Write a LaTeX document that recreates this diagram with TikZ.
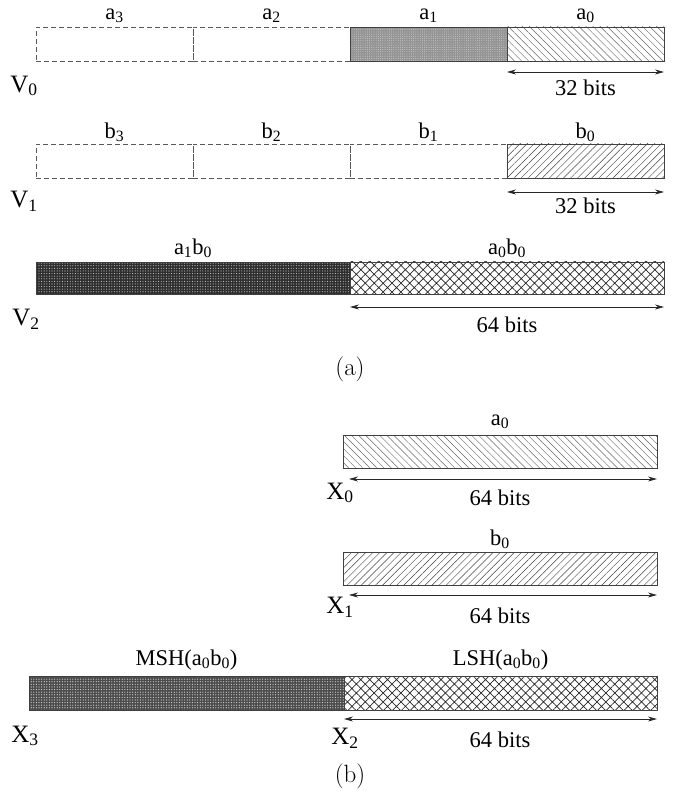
\documentclass[tikz,border=0pt]{standalone}
\usepackage{fontspec}
\newfontfamily\capfont{Latin Modern Roman}
\setmainfont{Liberation Serif}
\usetikzlibrary{patterns.meta,arrows.meta}
\tikzset{
  cell/.style={draw=black!75, line width=0.8pt, inner sep=0pt, minimum height=34pt},
  dcell/.style={cell, draw=black!65, dash pattern=on 5pt off 3pt},
  nwlines/.style={pattern={Lines[angle=-45,distance=5pt,line width=0.45pt]}, pattern color=black!60},
  nelines/.style={pattern={Lines[angle=45,distance=5pt,line width=0.45pt]}, pattern color=black!75},
  xhatch/.style={pattern={Hatch[angle=45,distance=6.3pt,line width=0.7pt]}, pattern color=black!85},
  lightdots/.style={preaction={fill=black!42}, pattern={Dots[distance=2.2pt,radius=0.45pt]}, pattern color=white!85!black},
  darkdots/.style={preaction={fill=black!82}, pattern={Dots[distance=2.6pt,radius=0.55pt]}, pattern color=white!80!black},
  middots/.style={preaction={fill=black!70}, pattern={Dots[distance=2.6pt,radius=0.6pt]}, pattern color=white!85!black},
  lab/.style={font=\fontsize{22.5}{26}\selectfont, inner sep=0pt},
  vlab/.style={font=\fontsize{25}{28}\selectfont, inner sep=0pt},
  captext/.style={font=\capfont\fontsize{25}{28}\selectfont, inner sep=0pt},
  dim/.style={{Stealth[length=9pt,width=5pt]}-{Stealth[length=9pt,width=5pt]}, line width=0.7pt, black!85}
}
\begin{document}
\begin{tikzpicture}[x=1pt,y=-1pt]
\useasboundingbox (0,0) rectangle (677,791);
% ---------- V0 ----------
\node[dcell, minimum width=157pt] (a3) at (114.5,44) {};
\node[dcell, minimum width=157pt] (a2) at (271.5,44) {};
\node[cell, lightdots, minimum width=157pt] (a1) at (428.5,44) {};
\node[cell, nwlines, minimum width=157pt] (a0) at (585.5,44) {};
\node[lab] (la3) at (114.5,16) {a\textsubscript{3}};
\node[lab] (la2) at (271.5,16) {a\textsubscript{2}};
\node[lab] (la1) at (428.5,16) {a\textsubscript{1}};
\node[lab] (la0) at (585.5,16) {a\textsubscript{0}};
\node[vlab] (V0) at (24,86) {V\textsubscript{0}};
\coordinate (v0l) at (507,72);
\coordinate (v0r) at (664,72);
\draw[dim] (v0l) -- (v0r);
\node[lab] (v0b) at (585.5,88) {32 bits};
% ---------- V1 ----------
\node[dcell, minimum width=157pt] (b3) at (114.5,161) {};
\node[dcell, minimum width=157pt] (b2) at (271.5,161) {};
\node[dcell, minimum width=157pt] (b1) at (428.5,161) {};
\node[cell, nelines, minimum width=157pt] (b0) at (585.5,161) {};
\node[lab] (lb3) at (114.5,132) {b\textsubscript{3}};
\node[lab] (lb2) at (271.5,132) {b\textsubscript{2}};
\node[lab] (lb1) at (428.5,132) {b\textsubscript{1}};
\node[lab] (lb0) at (585.5,132) {b\textsubscript{0}};
\node[vlab] (V1) at (24,201) {V\textsubscript{1}};
\coordinate (v1l) at (507,192);
\coordinate (v1r) at (664,192);
\draw[dim] (v1l) -- (v1r);
\node[lab] (v1b) at (585.5,206) {32 bits};
% ---------- V2 ----------
\node[cell, darkdots, minimum width=314pt, minimum height=32pt] (a1b0) at (193,278) {};
\node[cell, xhatch, minimum width=314pt, minimum height=32pt] (a0b0) at (507,278) {};
\node[lab] (la1b0) at (193,248) {a\textsubscript{1}b\textsubscript{0}};
\node[lab] (la0b0) at (507,248) {a\textsubscript{0}b\textsubscript{0}};
\node[vlab] (V2) at (26,319) {V\textsubscript{2}};
\coordinate (v2l) at (350,307);
\coordinate (v2r) at (664,307);
\draw[dim] (v2l) -- (v2r);
\node[lab] (v2b) at (507,325) {64 bits};
\node[captext] (capa) at (350,369) {(a)};
% ---------- X0 ----------
\node[cell, nwlines, minimum width=314pt, minimum height=33pt] (x0box) at (500,451.5) {};
\node[lab] (lx0) at (500,422) {a\textsubscript{0}};
\node[vlab] (X0) at (340,493) {X\textsubscript{0}};
\coordinate (x0l) at (349,479);
\coordinate (x0r) at (657,479);
\draw[dim] (x0l) -- (x0r);
\node[lab] (x0b) at (500,498) {64 bits};
% ---------- X1 ----------
\node[cell, nelines, minimum width=314pt, minimum height=33pt] (x1box) at (500,568.5) {};
\node[lab] (lx1) at (500,539) {b\textsubscript{0}};
\node[vlab] (X1) at (340,607) {X\textsubscript{1}};
\coordinate (x1l) at (349,595);
\coordinate (x1r) at (657,595);
\draw[dim] (x1l) -- (x1r);
\node[lab] (x1b) at (500,616) {64 bits};
% ---------- X3 / X2 ----------
\node[cell, middots, minimum width=315pt] (msh) at (186.5,693) {};
\node[cell, xhatch, minimum width=313pt] (lsh) at (500.5,693) {};
\node[lab] (lmsh) at (186.5,660) {MSH(a\textsubscript{0}b\textsubscript{0})};
\node[lab] (llsh) at (500.5,660) {LSH(a\textsubscript{0}b\textsubscript{0})};
\node[vlab] (X3) at (25,736) {X\textsubscript{3}};
\node[vlab] (X2) at (345,738) {X\textsubscript{2}};
\coordinate (x2l) at (344,719);
\coordinate (x2r) at (657,719);
\draw[dim] (x2l) -- (x2r);
\node[lab] (x2b) at (500,740) {64 bits};
\node[captext] (capb) at (350,776) {(b)};
\end{tikzpicture}
\end{document}
